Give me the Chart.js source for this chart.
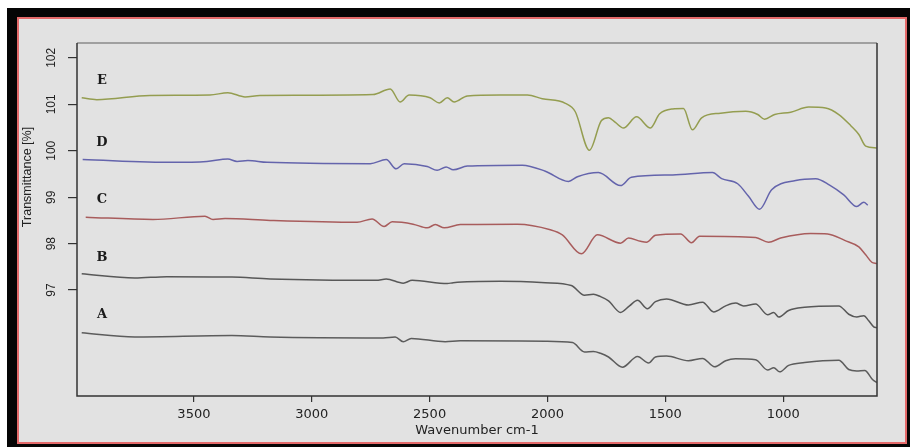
<!DOCTYPE html>
<html>
<head>
<meta charset="utf-8">
<script src="https://cdn.jsdelivr.net/npm/chart.js@4/dist/chart.umd.min.js"></script>
<style>
  html, body { margin:0; padding:0; }
  body { width:910px; height:447px; position:relative; overflow:hidden; background:#ffffff; }
  #frame { position:absolute; left:7px; top:8px; width:903px; height:439px; background:#050505; }
  #panel { position:absolute; left:17px; top:17px; width:890px; height:427px; box-sizing:border-box;
           border:2px solid #e46a6a; background:#e2e2e2; }
  #c { position:absolute; left:0; top:0; }
</style>
</head>
<body>
<div id="frame"></div>
<div id="panel"></div>
<canvas id="c" width="910" height="447"></canvas>
<script>
// ---- tick labels ----
const wavenumberTicks = [3500, 3000, 2500, 2000, 1500, 1000];
const transmittanceTicks = [97, 98, 99, 100, 101, 102];

// ---- series labels ----
const labelNames = ['E', 'D', 'C', 'B', 'A'];
const labelWave = 3890;
const labelTrans = [101.51, 100.17, 98.95, 97.70, 96.48];

// ---- series E (olive) ----
const eWave = [3976,3912,3687,3432,3356,3283,3220,2740,2667,2625,2587,2498,2459,2425,2396,2340,2200,2085,2022,1924,1882,1822,1771,1741,1712,1678,1622,1563,1525,1469,1423,1385,1346,1266,1159,1108,1079,1036,968,892,820,764,713,679,650,603];
const eTrans = [101.14,101.10,101.19,101.20,101.25,101.16,101.19,101.21,101.33,101.05,101.20,101.14,101.03,101.14,101.05,101.18,101.20,101.20,101.12,101.02,100.84,100.01,100.65,100.71,100.61,100.49,100.73,100.49,100.79,100.90,100.91,100.45,100.71,100.81,100.85,100.78,100.68,100.78,100.83,100.94,100.92,100.78,100.54,100.35,100.10,100.06];

// ---- series D (blue) ----
const dWave = [3972,3589,3445,3356,3317,3271,3190,2752,2684,2642,2608,2510,2468,2430,2400,2340,2107,2009,1911,1873,1784,1690,1644,1469,1300,1261,1193,1147,1100,1049,947,862,803,743,688,658,641];
const dTrans = [99.81,99.75,99.77,99.82,99.77,99.79,99.75,99.72,99.81,99.61,99.72,99.66,99.58,99.65,99.59,99.67,99.69,99.56,99.34,99.44,99.53,99.25,99.43,99.48,99.53,99.40,99.29,99.02,98.74,99.16,99.36,99.40,99.26,99.05,98.80,98.89,98.83];

// ---- series C (red) ----
const cWave = [3959,3674,3453,3419,3368,3177,2808,2744,2693,2659,2570,2510,2476,2438,2370,2128,1988,1937,1856,1788,1690,1656,1605,1580,1542,1435,1389,1355,1117,1062,1011,883,811,739,679,650,624,603];
const cTrans = [98.57,98.52,98.59,98.52,98.54,98.50,98.46,98.53,98.37,98.47,98.42,98.34,98.41,98.34,98.41,98.42,98.30,98.19,97.78,98.19,98.01,98.12,98.05,98.03,98.18,98.21,98.02,98.16,98.13,98.03,98.12,98.22,98.21,98.07,97.93,97.76,97.60,97.57];

// ---- series B (gray) ----
const bWave = [3976,3751,3615,3339,3177,2727,2684,2612,2574,2425,2400,2200,2009,1899,1843,1805,1775,1741,1690,1652,1618,1576,1542,1495,1402,1342,1295,1244,1202,1168,1117,1066,1040,1019,977,909,764,722,688,658,637,616,603];
const bTrans = [97.35,97.26,97.29,97.28,97.24,97.21,97.24,97.15,97.21,97.14,97.16,97.19,97.16,97.10,96.89,96.91,96.86,96.77,96.52,96.66,96.78,96.60,96.75,96.81,96.68,96.74,96.53,96.66,96.72,96.66,96.70,96.47,96.52,96.42,96.56,96.63,96.66,96.48,96.42,96.45,96.34,96.21,96.19];

// ---- series A (gray) ----
const aWave = [3976,3751,3339,3177,2697,2646,2612,2578,2434,2370,2009,1894,1843,1805,1775,1741,1682,1618,1571,1542,1495,1402,1342,1291,1244,1202,1117,1066,1040,1015,977,909,764,722,688,654,620,603];
const aTrans = [96.08,95.99,96.02,95.99,95.97,95.99,95.89,95.96,95.89,95.91,95.90,95.87,95.67,95.68,95.64,95.56,95.34,95.57,95.43,95.56,95.58,95.48,95.53,95.35,95.48,95.52,95.50,95.28,95.33,95.24,95.38,95.44,95.49,95.29,95.26,95.27,95.07,95.01];

function pts(xs, ys) { return xs.map((x, i) => ({ x: x, y: ys[i] })); }
function ds(name, xs, ys, color) {
  return { label: name, data: pts(xs, ys), showLine: true, pointRadius: 0, borderColor: color,
           borderWidth: 1.5, cubicInterpolationMode: 'monotone', fill: false };
}

const decor = {
  id: 'decor',
  afterDatasetsDraw(chart) {
    const ctx = chart.ctx, a = chart.chartArea;
    const xs = chart.scales.x, ys = chart.scales.y;
    ctx.save();
    // plot box
    ctx.lineWidth = 1.5;
    ctx.strokeStyle = '#8a8a8a';
    ctx.beginPath(); ctx.moveTo(a.left, a.top); ctx.lineTo(a.right, a.top); ctx.stroke();
    ctx.strokeStyle = '#333333';
    ctx.beginPath();
    ctx.moveTo(a.left, a.top); ctx.lineTo(a.left, a.bottom); ctx.lineTo(a.right, a.bottom); ctx.lineTo(a.right, a.top);
    ctx.stroke();
    // y tick labels (rotated)
    ctx.fillStyle = '#222';
    ctx.font = '12px "Liberation Sans", Arial, sans-serif';
    ctx.textAlign = 'center';
    ctx.textBaseline = 'middle';
    transmittanceTicks.forEach(v => {
      const y = ys.getPixelForValue(v);
      ctx.save(); ctx.translate(52, y); ctx.rotate(-Math.PI / 2); ctx.fillText(String(v), 0, 0); ctx.restore();
    });
    // y title
    ctx.font = '12.5px "Liberation Sans", Arial, sans-serif';
    ctx.save(); ctx.translate(28, 177); ctx.rotate(-Math.PI / 2); ctx.fillText('Transmittance [%]', 0, 0); ctx.restore();
    // x title
    ctx.font = '13px "DejaVu Sans", sans-serif';
    ctx.fillText('Wavenumber cm-1', (a.left + a.right) / 2, 431);
    // series labels
    ctx.font = 'bold 13px "DejaVu Serif", serif';
    ctx.fillStyle = '#1a1a1a';
    labelNames.forEach((n, i) => {
      ctx.fillText(n, xs.getPixelForValue(labelWave), ys.getPixelForValue(labelTrans[i]));
    });
    ctx.restore();
  }
};

new Chart(document.getElementById('c'), {
  type: 'scatter',
  data: {
    datasets: [
      ds('E', eWave, eTrans, '#949d50'),
      ds('D', dWave, dTrans, '#6464ac'),
      ds('C', cWave, cTrans, '#a85c5c'),
      ds('B', bWave, bTrans, '#585858'),
      ds('A', aWave, aTrans, '#5c5c5c')
    ]
  },
  options: {
    responsive: false,
    animation: false,
    devicePixelRatio: 1,
    layout: { padding: { top: 43, right: 33, left: 0, bottom: 0 } },
    plugins: { legend: { display: false }, tooltip: { enabled: false } },
    scales: {
      x: {
        type: 'linear', reverse: true, min: 602, max: 3996,
        afterBuildTicks: s => { s.ticks = wavenumberTicks.map(v => ({ value: v })); },
        afterFit: s => { s.height = 51; },
        grid: { drawOnChartArea: false, drawTicks: true, tickLength: 6, color: '#333', lineWidth: 1.2 },
        border: { display: false },
        ticks: { font: { family: 'DejaVu Sans', size: 13 }, color: '#222', padding: 5, maxRotation: 0, autoSkip: false,
                 callback: v => String(v) }
      },
      y: {
        type: 'linear', min: 94.72, max: 102.32,
        afterBuildTicks: s => { s.ticks = transmittanceTicks.map(v => ({ value: v })); },
        afterFit: s => { s.width = 77; },
        grid: { drawOnChartArea: false, drawTicks: true, tickLength: 9, color: '#333', lineWidth: 1.2 },
        border: { display: false },
        ticks: { display: false }
      }
    }
  },
  plugins: [decor]
});
</script>
</body>
</html>
